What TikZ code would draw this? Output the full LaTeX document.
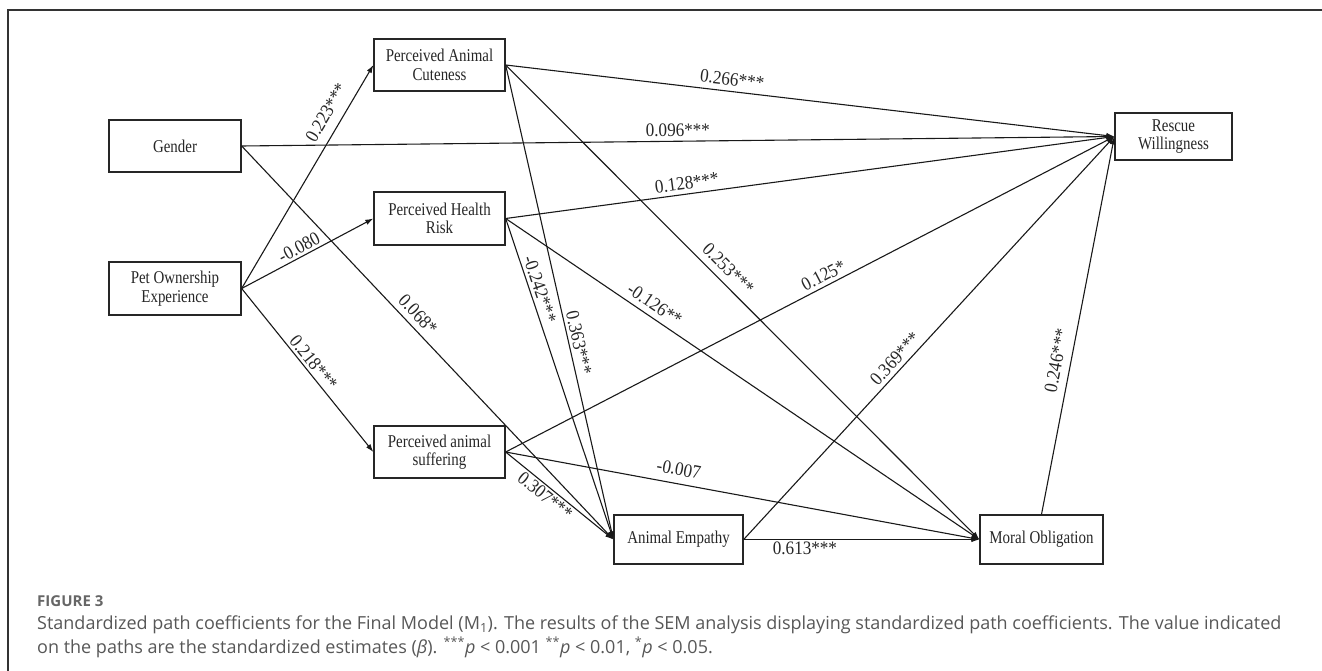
\documentclass[tikz,border=0pt]{standalone}
\usepackage{fontspec}
\setmainfont{Liberation Serif}
\newfontfamily\boxfont[FakeStretch=0.83]{Liberation Serif}
\newfontfamily\coeffont[FakeStretch=0.9]{Liberation Serif}
\newfontfamily\capfont{Open Sans}
\usetikzlibrary{arrows.meta}
\begin{document}
\begin{tikzpicture}[x=1pt,y=-1pt,
  boxnode/.style={draw=black!85,line width=1.3pt,rectangle,align=center,inner sep=0pt,
    font=\boxfont\fontsize{18}{18.5}\selectfont,text=black!85},
  pathline/.style={draw=black!90,line width=1.1pt,-{Latex[length=8pt,width=5.5pt]}},
  coef/.style={sloped,font=\coeffont\fontsize{19}{20}\selectfont,inner sep=1.5pt,text=black!85},
  framestyle/.style={draw=black!80,line width=1.2pt},
  captext/.style={font=\capfont\fontsize{18}{23}\selectfont,text=black!66,inner sep=0pt,anchor=base west}
]
\useasboundingbox (0,0) rectangle (1322,671);
% frame
\coordinate (ftl) at (8,10);
\coordinate (ftr) at (1322,10);
\coordinate (fbl) at (8,671);
\draw[framestyle] (ftr) -- (ftl) -- (fbl);

% boxes
\node[boxnode,minimum width=132pt,minimum height=52pt] (gen) at (175,146) {Gender};
\node[boxnode,minimum width=132pt,minimum height=53pt] (pet) at (175,288.5) {Pet Ownership\\Experience};
\node[boxnode,minimum width=131pt,minimum height=52pt] (cut) at (439.5,65) {Perceived Animal\\Cuteness};
\node[boxnode,minimum width=131pt,minimum height=53pt] (hea) at (439.5,218.5) {Perceived Health\\Risk};
\node[boxnode,minimum width=131pt,minimum height=52pt] (suf) at (439.5,452) {Perceived animal\\suffering};
\node[boxnode,minimum width=129pt,minimum height=49pt] (emp) at (678.5,539.5) {Animal Empathy};
\node[boxnode,minimum width=123pt,minimum height=49pt] (mor) at (1041.5,539.5) {Moral Obligation};
\node[boxnode,minimum width=117pt,minimum height=47pt] (res) at (1173.5,136.5) {Rescue\\Willingness};

% paths
\draw[pathline] (pet.east) -- node[coef,pos=0.75,above=8pt]{0.223***} (cut.west);
\draw[pathline] (pet.east) -- node[coef,pos=0.47,above=1pt]{-0.080} (hea.west);
\draw[pathline] (pet.east) -- node[coef,pos=0.49,above=1pt]{0.218***} (suf.west);
\draw[pathline] (gen.east) -- node[coef,pos=0.50,above=2.5pt]{0.096***} (res.west);
\draw[pathline] (gen.east) -- node[coef,pos=0.45,above=4pt]{0.068*} (emp.west);
\draw[pathline] (cut.east) -- node[coef,pos=0.37,above=3.5pt]{0.266***} (res.west);
\draw[pathline] (cut.east) -- node[coef,pos=0.59,above=1.5pt]{0.363***} (emp.west);
\draw[pathline] (cut.east) -- node[coef,pos=0.45,above=5pt]{0.253***} (mor.west);
\draw[pathline] (hea.east) -- node[coef,pos=0.30,above=2.5pt]{0.128***} (res.west);
\draw[pathline] (hea.east) -- node[coef,pos=0.23,above=1.5pt]{-0.242***} (emp.west);
\draw[pathline] (hea.east) -- node[coef,pos=0.30,above=4pt]{-0.126**} (mor.west);
\draw[pathline] (suf.east) -- node[coef,pos=0.53,above=2pt]{0.125*} (res.west);
\draw[pathline] (suf.east) -- node[coef,pos=0.36,above=6pt]{-0.007} (mor.west);
\draw[pathline] (suf.east) -- node[coef,pos=0.42,below=0.5pt]{0.307***} (emp.west);
\draw[pathline] (emp.east) -- node[coef,pos=0.43,above=2.5pt]{0.369***} (res.west);
\draw[pathline] (emp.east) -- node[coef,pos=0.26,below=0.5pt]{0.613***} (mor.west);
\draw[pathline] (mor.north) -- node[coef,pos=0.40,above=6pt]{0.246***} (res.west);

% caption
\node[captext,font=\capfont\bfseries\fontsize{15}{23}\selectfont,text=black!60] (figlab) at (37,606.5) {FIGURE 3};
\node[captext] (cap1) at (37,629.5) {Standardized path coefficients for the Final Model (M\textsubscript{1}). The results of the SEM analysis displaying standardized path coefficients. The value indicated};
\node[captext] (cap2) at (37,653) {on the paths are the standardized estimates (\textit{β}). \textsuperscript{***}\textit{p} < 0.001 \textsuperscript{**}\textit{p} < 0.01, \textsuperscript{*}\textit{p} < 0.05.};
\end{tikzpicture}
\end{document}
